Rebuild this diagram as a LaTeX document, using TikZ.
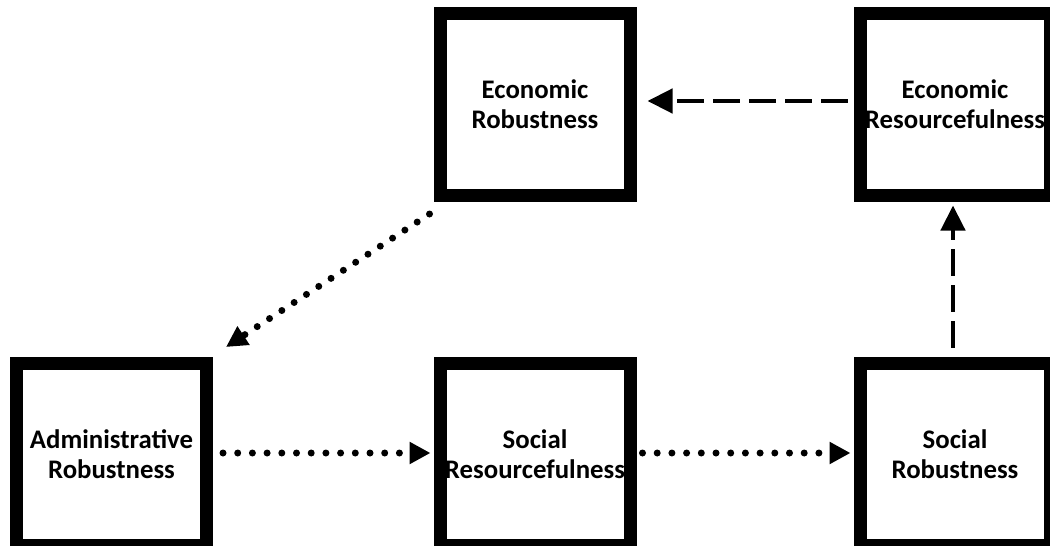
\documentclass[tikz,border=0pt]{standalone}
\usepackage{fontspec}
\setmainfont{Carlito}
\usetikzlibrary{arrows.meta}
\begin{document}
\begin{tikzpicture}[x=1pt,y=-1pt,
  box/.style={draw=black, line width=13pt, fill=white, minimum width=190pt, minimum height=182pt, inner sep=0pt, outer sep=0pt, align=center, font=\bfseries\fontsize{26.8}{30}\selectfont},
  dashline/.style={line width=4.5pt, dash pattern=on 27pt off 9pt, -{Triangle[length=25pt,width=24pt]}},
  dotline/.style={line width=7pt, line cap=round, dash pattern=on 0pt off 14.7pt, -{Triangle[length=21pt,width=21pt]}}]
\useasboundingbox[fill=white] (0,0) rectangle (1050,546);
\node[box] (erob) at (535,104) {Economic\\Robustness};
\node[box] (eres) at (955,104) {Economic\\Resourcefulness};
\node[box] (arob) at (111.5,454) {Administrative\\Robustness};
\node[box] (sres) at (535,454) {Social\\Resourcefulness};
\node[box] (srob) at (955,454) {Social\\Robustness};
\draw[dashline, shorten <=12.5pt, shorten >=17.5pt] ([yshift=3pt]eres.west) -- ([yshift=3pt]erob.east);
\draw[dashline, shorten <=15.5pt, shorten >=10.5pt] ([xshift=-2pt]srob.north) -- ([xshift=-2pt]eres.south);
\draw[dotline] ([shift={(-10.5,19)}]erob.south west) -- ([shift={(19.5,-16)}]arob.north east);
\draw[dotline, shorten <=16.5pt, shorten >=9.5pt] ([yshift=1pt]arob.east) -- ([yshift=1pt]sres.west);
\draw[dotline, shorten <=12.5pt, shorten >=9.5pt] ([yshift=1pt]sres.east) -- ([yshift=1pt]srob.west);
\end{tikzpicture}
\end{document}
